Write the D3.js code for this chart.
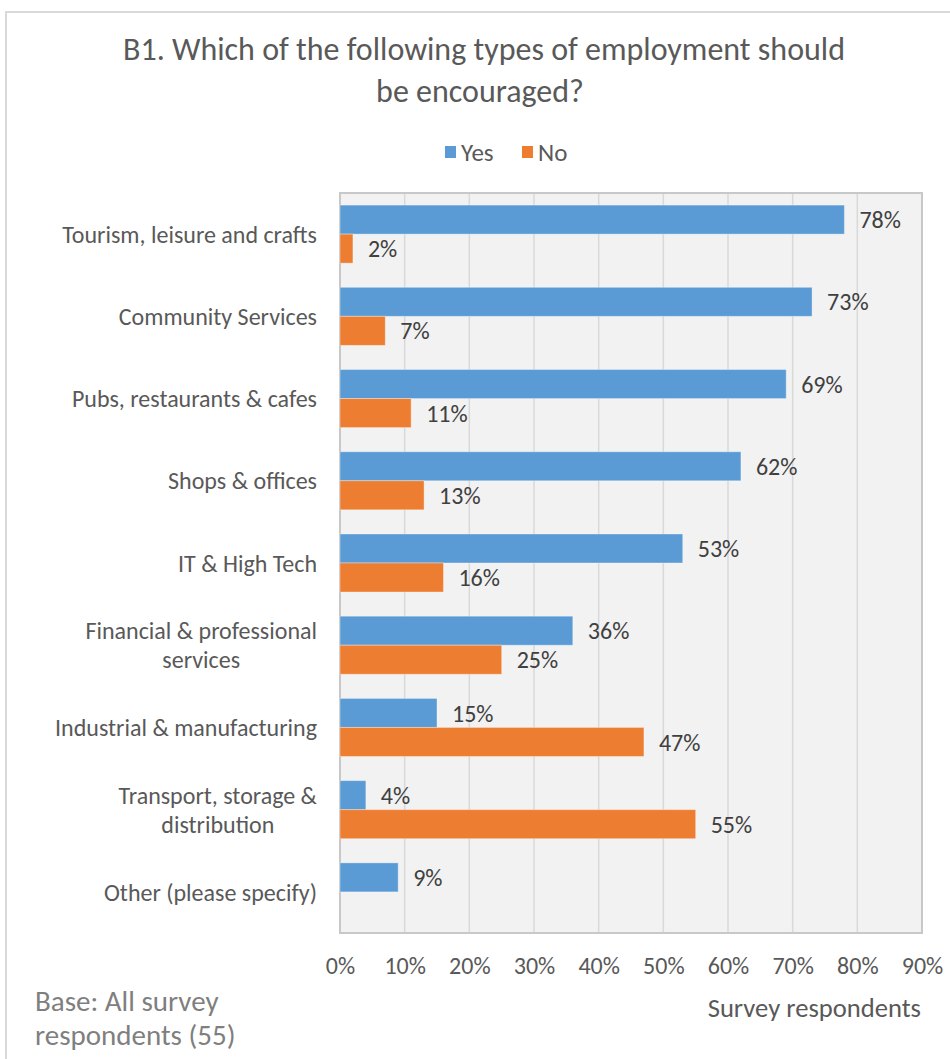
<!DOCTYPE html>
<html>
<head>
<meta charset="utf-8">
<script src="https://cdn.jsdelivr.net/npm/d3@7"></script>
<style>
  html, body { margin: 0; padding: 0; background: #ffffff; }
  svg { display: block; font-family: Carlito, Calibri, Lato, "Noto Sans", sans-serif; }
</style>
</head>
<body>
<svg id="chart" width="950" height="1059"></svg>
<script>
// Survey question B1: share of respondents answering Yes / No per employment type
const categories = [
  "Tourism, leisure and crafts",
  "Community Services",
  "Pubs, restaurants & cafes",
  "Shops & offices",
  "IT & High Tech",
  "Financial & professional\nservices",
  "Industrial & manufacturing",
  "Transport, storage &\ndistribution",
  "Other (please specify)"
];
const yesValues = [78, 73, 69, 62, 53, 36, 15, 4, 9];
const noValues  = [2, 7, 11, 13, 16, 25, 47, 55, null];
const seriesNames = ["Yes", "No"];
const tickValues = [0, 10, 20, 30, 40, 50, 60, 70, 80, 90];

const colors = { Yes: "#5b9bd5", No: "#ed7d31" };
const textColor = "#595959";

const svg = d3.select("#chart");

// outer chart frame
svg.append("rect")
  .attr("x", 6).attr("y", 12)
  .attr("width", 960).attr("height", 1070)
  .attr("fill", "#ffffff")
  .attr("stroke", "#d9d9d9").attr("stroke-width", 2);

// title
const title = svg.append("text")
  .attr("text-anchor", "middle")
  .attr("fill", textColor)
  .attr("font-size", 32);
title.append("tspan").attr("x", 484).attr("y", 60)
  .text("B1. Which of the following types of employment should");
title.append("tspan").attr("x", 480).attr("y", 102)
  .text("be encouraged?");

// legend
const legend = svg.append("g").attr("font-size", 25).attr("fill", textColor);
const legendItems = [
  { name: seriesNames[0], x: 445 },
  { name: seriesNames[1], x: 522 }
];
legendItems.forEach(d => {
  legend.append("rect").attr("x", d.x).attr("y", 146)
    .attr("width", 11).attr("height", 12).attr("fill", colors[d.name]);
  legend.append("text").attr("x", d.x + 16).attr("y", 161).text(d.name);
});

// plot area
const plot = { left: 340, right: 922, top: 193, bottom: 933 };

const x = d3.scaleLinear()
  .domain([0, 90])
  .range([plot.left, plot.right]);

const y = d3.scaleBand()
  .domain(categories)
  .range([plot.top, plot.bottom])
  .paddingInner(0.294)
  .paddingOuter(0.147);

const sub = d3.scaleBand()
  .domain(seriesNames)
  .range([0, y.bandwidth()]);

svg.append("rect")
  .attr("x", plot.left).attr("y", plot.top)
  .attr("width", plot.right - plot.left).attr("height", plot.bottom - plot.top)
  .attr("fill", "#f2f2f2");

// vertical gridlines
svg.append("g")
  .selectAll("line")
  .data(tickValues.slice(1, -1))
  .join("line")
  .attr("x1", d => x(d)).attr("x2", d => x(d))
  .attr("y1", plot.top).attr("y2", plot.bottom)
  .attr("stroke", "#d9d9d9").attr("stroke-width", 1.5);

// plot area border
svg.append("rect")
  .attr("x", plot.left).attr("y", plot.top)
  .attr("width", plot.right - plot.left).attr("height", plot.bottom - plot.top)
  .attr("fill", "none")
  .attr("stroke", "#c8c8c8").attr("stroke-width", 2);

// bars
const rows = categories.map((c, i) => ({ cat: c, Yes: yesValues[i], No: noValues[i] }));
const barData = [];
rows.forEach(r => {
  seriesNames.forEach(s => {
    if (r[s] !== null) barData.push({ cat: r.cat, series: s, value: r[s] });
  });
});

svg.append("g")
  .selectAll("rect")
  .data(barData)
  .join("rect")
  .attr("x", x(0))
  .attr("y", d => y(d.cat) + sub(d.series))
  .attr("width", d => x(d.value) - x(0))
  .attr("height", sub.bandwidth())
  .attr("fill", d => colors[d.series])
  .attr("stroke", "#ffffff").attr("stroke-opacity", 0.35).attr("stroke-width", 1);

// data labels
svg.append("g")
  .attr("font-size", 24)
  .attr("fill", "#404040")
  .selectAll("text")
  .data(barData)
  .join("text")
  .attr("x", d => x(d.value) + 15)
  .attr("y", d => y(d.cat) + sub(d.series) + sub.bandwidth() / 2)
  .attr("dy", "0.36em")
  .text(d => d.value + "%");

// x axis tick labels
const xAxis = d3.axisBottom(x)
  .tickValues(tickValues)
  .tickFormat(d => d + "%")
  .tickSize(0)
  .tickPadding(0);
const xg = svg.append("g")
  .attr("transform", `translate(0,${plot.bottom + 41})`)
  .call(xAxis);
xg.select(".domain").remove();
xg.attr("font-family", null).attr("font-size", null);
xg.selectAll("text")
  .attr("font-size", 24)
  .attr("fill", textColor)
  .attr("y", 0)
  .attr("dy", 0);

// y axis category labels (wrapped lines centred as a block, right-aligned to the axis)
const yAxis = d3.axisLeft(y).tickSize(0).tickFormat(() => "");
const yg = svg.append("g").attr("transform", `translate(${plot.left},0)`).call(yAxis);
yg.select(".domain").remove();

const catLabels = svg.append("g").attr("font-size", 24).attr("fill", textColor);
categories.forEach(c => {
  const lines = c.split("\n");
  const cy = y(c) + y.bandwidth() / 2;
  const lh = 29;
  const t = catLabels.append("text").attr("text-anchor", "middle");
  lines.forEach((ln, i) => {
    t.append("tspan")
      .attr("y", cy + (i - (lines.length - 1) / 2) * lh)
      .attr("dy", "0.36em")
      .text(ln);
  });
  let maxW = 0;
  t.selectAll("tspan").each(function () {
    maxW = Math.max(maxW, this.getComputedTextLength());
  });
  t.selectAll("tspan").attr("x", plot.left - 23 - maxW / 2);
});

// axis title
svg.append("text")
  .attr("x", 921).attr("y", 1017)
  .attr("text-anchor", "end")
  .attr("font-size", 26.6)
  .attr("fill", textColor)
  .text("Survey respondents");

// base note
const note = svg.append("text")
  .attr("font-size", 29)
  .attr("fill", "#7f7f7f");
note.append("tspan").attr("x", 35).attr("y", 1011).text("Base: All survey");
note.append("tspan").attr("x", 35).attr("y", 1045).text("respondents (55)");
</script>
</body>
</html>
